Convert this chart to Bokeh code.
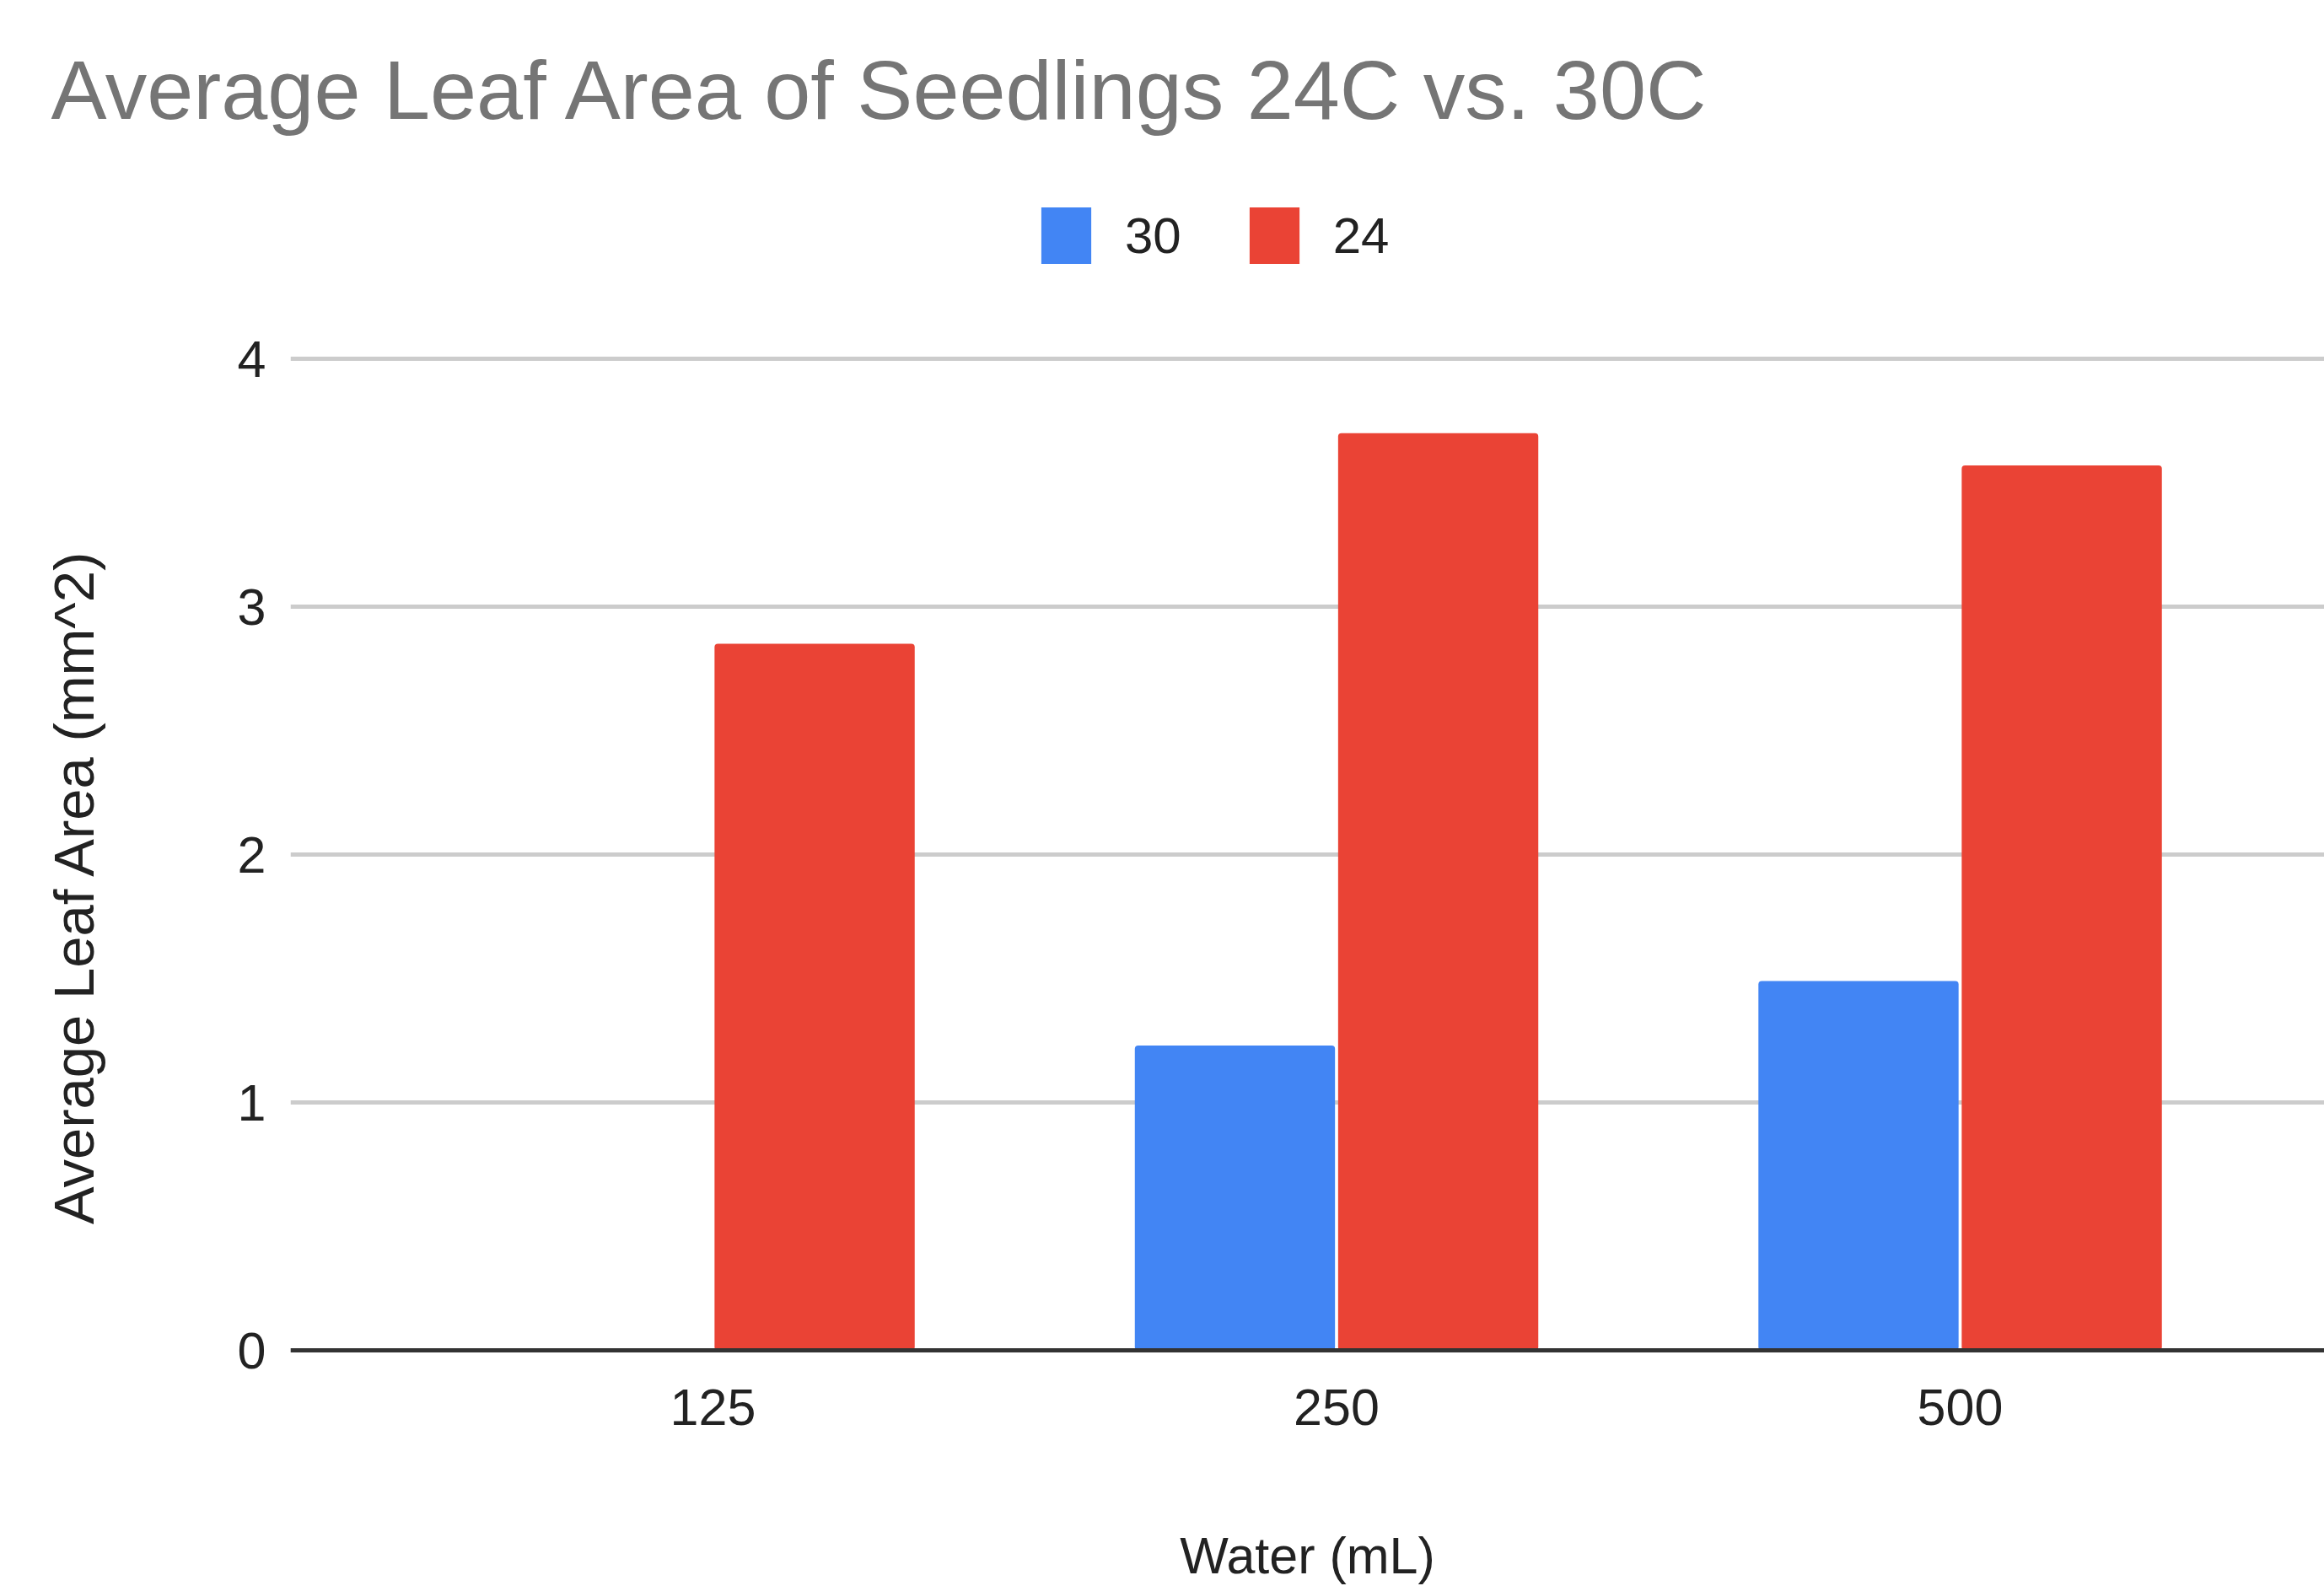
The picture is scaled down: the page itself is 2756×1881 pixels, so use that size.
from bokeh.plotting import figure
from bokeh.layouts import column
from bokeh.models import Range1d, FixedTicker, Legend, LegendItem, ColumnDataSource, Span
from bokeh.transform import dodge
from bokeh.embed import file_html
from bokeh.resources import INLINE

# ---- data ----
categories = ["125", "250", "500"]
series_names = ["30", "24"]
values_30 = [0.0, 1.23, 1.49]
values_24 = [2.85, 3.70, 3.57]
y_ticks = [0, 1, 2, 3, 4]
title_text = "Average Leaf Area of Seedlings 24C vs. 30C"
x_title = "Water (mL)"
y_title = "Average Leaf Area (mm^2)"

# ---- layout ----
W, H = 2756, 1881
HEAD = 380            # height of the title/legend strip
LEFT, TOP, BOTTOM = 344, 40, 199
MAIN_H = H - HEAD
PX_X = 739.5
PX_Y = 294.0
X0 = -0.6775
Y0 = -81 / PX_Y       # frame extends a little below the zero line
frame_w = W - LEFT
frame_h = MAIN_H - TOP - BOTTOM
FONT = "Liberation Sans"
BLUE = "#4285F4"
RED = "#EA4335"
TEXT = "#222222"

# ---------- header: title + legend ----------
head = figure(width=W, height=HEAD, output_backend="svg", toolbar_location=None,
              x_range=Range1d(0, 1), y_range=Range1d(0, 1),
              x_axis_location=None, y_axis_location=None,
              min_border_left=LEFT, min_border_right=0, min_border_top=0, min_border_bottom=0)
head.outline_line_color = None
head.grid.visible = False
head.background_fill_color = "white"
head.border_fill_color = "white"

head.title.text = title_text
head.title.align = "left"
head.title.offset = 60 - LEFT
head.title.standoff = 96
head.title.text_font = FONT
head.title.text_font_size = "99px"
head.title.text_font_style = "normal"
head.title.text_color = "#757575"

# legend keys (zero-height, never visible in the header frame)
key_src = ColumnDataSource(dict(x=[0.5], top=[0.0]))
k30 = head.vbar(x="x", top="top", width=0.01, source=key_src, fill_color=BLUE, line_color=None)
k24 = head.vbar(x="x", top="top", width=0.01, source=key_src, fill_color=RED, line_color=None)
legend = Legend(items=[LegendItem(label=series_names[0], renderers=[k30]),
                       LegendItem(label=series_names[1], renderers=[k24])],
                orientation="horizontal", location=(1227 - LEFT, HEAD - 321),
                glyph_width=74, glyph_height=84, label_standoff=33, spacing=73,
                padding=0, margin=0, border_line_color=None, background_fill_alpha=0,
                label_text_font=FONT, label_text_font_size="60px",
                label_text_color=TEXT)
head.add_layout(legend, "center")

# ---------- main chart ----------
p = figure(width=W, height=MAIN_H, output_backend="svg", toolbar_location=None,
           x_range=Range1d(X0, X0 + frame_w / PX_X),
           y_range=Range1d(Y0, Y0 + frame_h / PX_Y),
           min_border_left=LEFT, min_border_right=0,
           min_border_top=TOP, min_border_bottom=BOTTOM)
p.outline_line_color = None
p.background_fill_color = "white"
p.border_fill_color = "white"

src = ColumnDataSource(dict(x=list(range(len(categories))), v30=values_30, v24=values_24))
p.vbar(x=dodge("x", -0.163, range=p.x_range), top="v30", width=0.321, source=src,
       fill_color=BLUE, line_color=None, border_radius=4)
p.vbar(x=dodge("x", 0.163, range=p.x_range), top="v24", width=0.321, source=src,
       fill_color=RED, line_color=None, border_radius=4)

xa = p.xaxis[0]
xa.ticker = FixedTicker(ticks=list(range(len(categories))))
xa.major_label_overrides = {i: c for i, c in enumerate(categories)}
xa.major_tick_line_color = None
xa.major_tick_out = 0
xa.minor_tick_line_color = None
xa.axis_line_color = None
xa.major_label_standoff = 46 - 81
xa.major_label_text_font = FONT
xa.major_label_text_font_size = "61px"
xa.major_label_text_color = TEXT
xa.axis_label = x_title
xa.axis_label_standoff = 118
xa.axis_label_text_font = FONT
xa.axis_label_text_font_size = "61px"
xa.axis_label_text_font_style = "normal"
xa.axis_label_text_color = TEXT

# baseline at zero
p.add_layout(Span(location=0, dimension="width", line_color="#333333", line_width=5))

ya = p.yaxis[0]
ya.ticker = FixedTicker(ticks=y_ticks)
ya.major_tick_line_color = None
ya.major_tick_out = 0
ya.minor_tick_line_color = None
ya.axis_line_color = None
ya.major_label_standoff = 29
ya.major_label_text_font = FONT
ya.major_label_text_font_size = "61px"
ya.major_label_text_color = TEXT
ya.axis_label = y_title
ya.axis_label_standoff = 154
ya.axis_label_text_font = FONT
ya.axis_label_text_font_size = "67px"
ya.axis_label_text_font_style = "normal"
ya.axis_label_text_color = TEXT

p.xgrid.grid_line_color = None
p.ygrid.ticker = FixedTicker(ticks=y_ticks)
p.ygrid.grid_line_color = "#cccccc"
p.ygrid.grid_line_width = 5

layout = column(head, p, spacing=0)
open("out.html", "w").write(file_html(layout, INLINE))
